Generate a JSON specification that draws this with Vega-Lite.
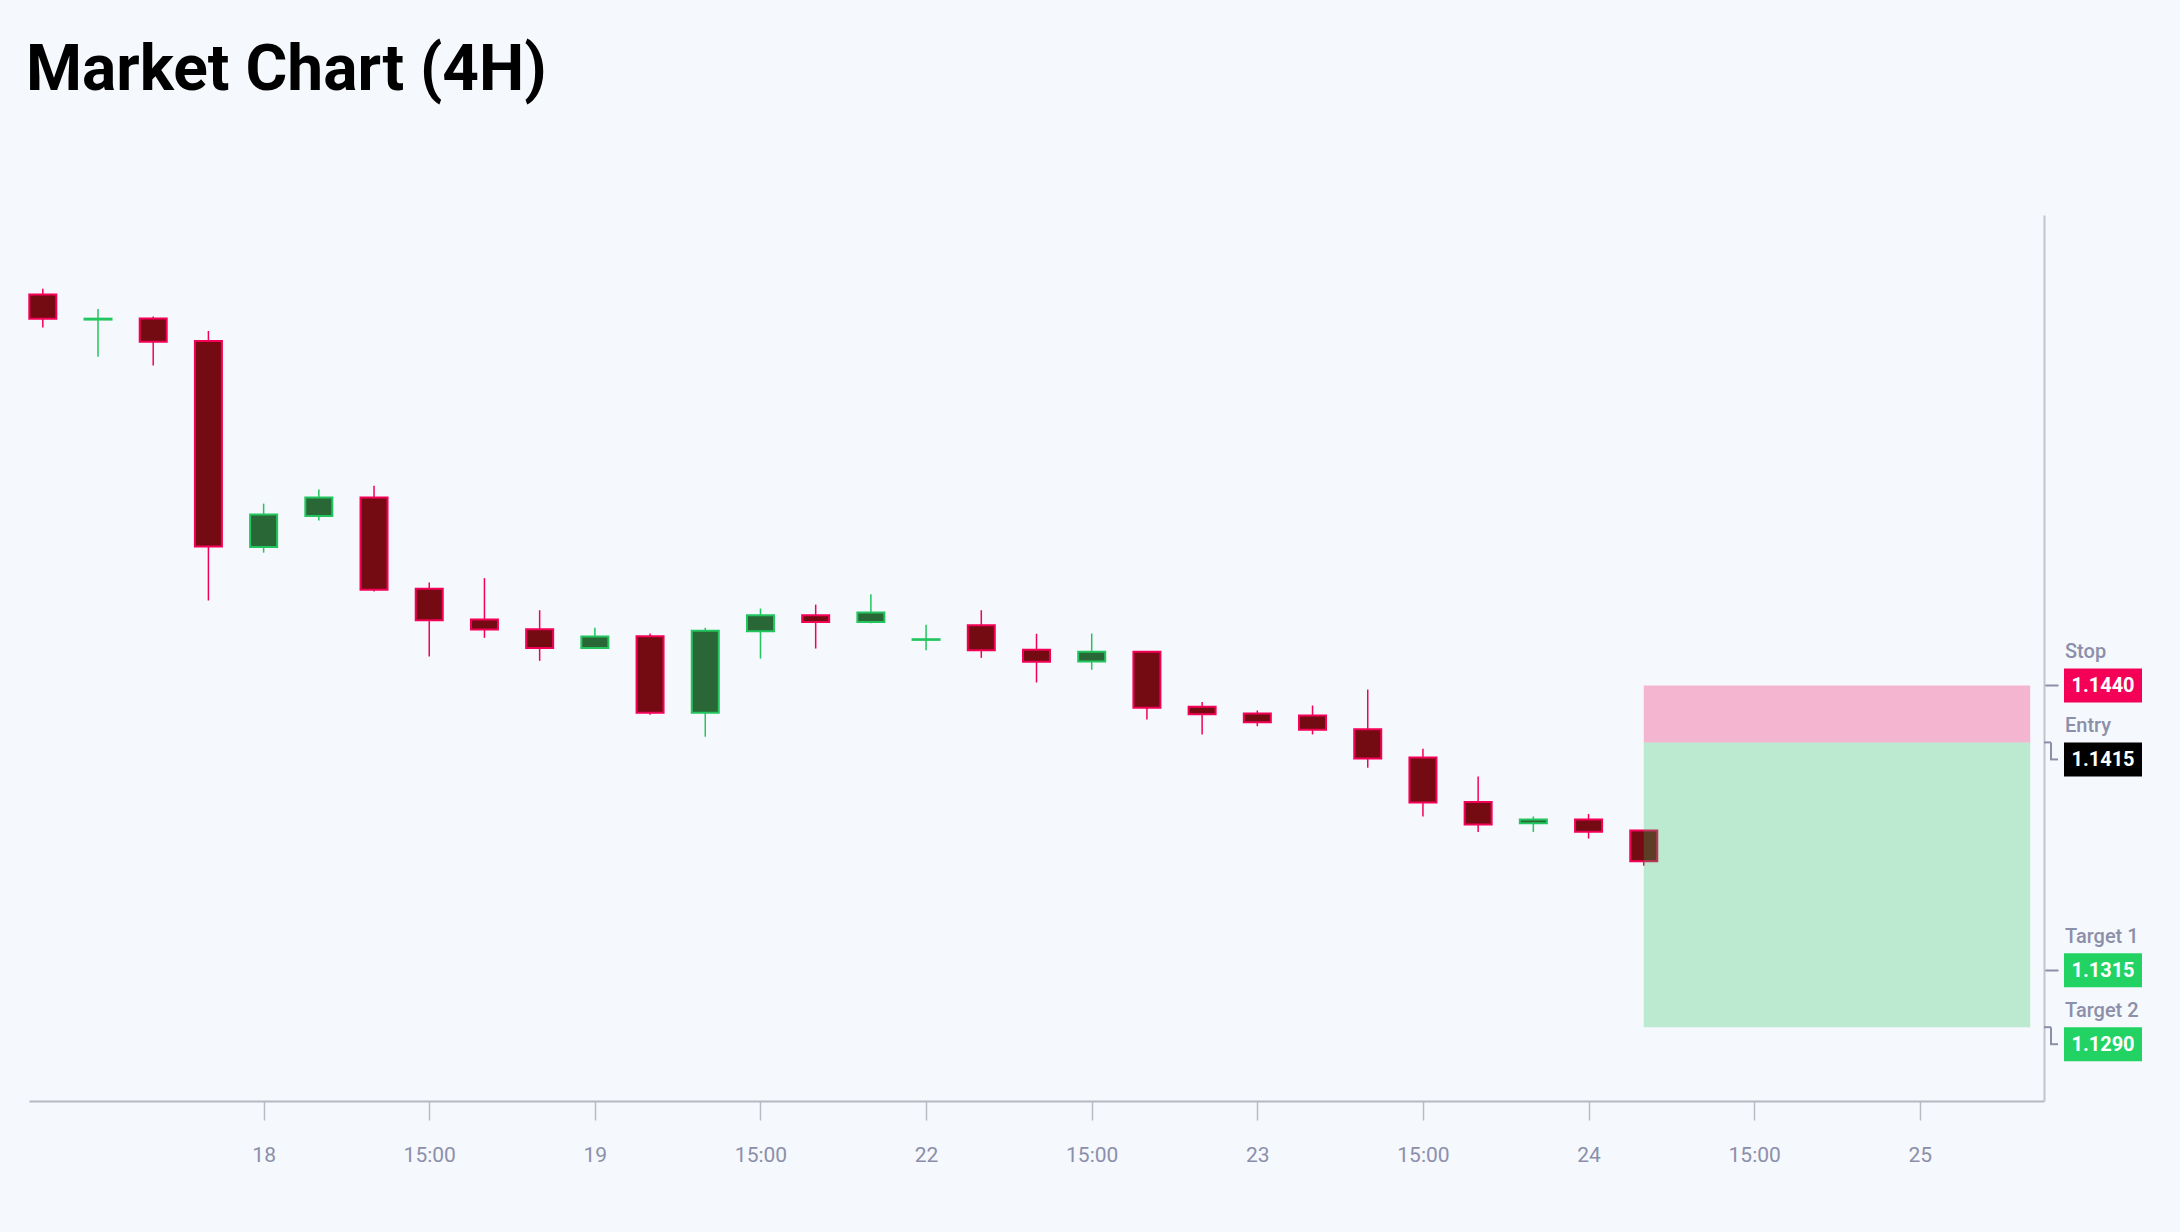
{
  "$schema": "https://vega.github.io/schema/vega-lite/v6.json",
  "autosize": {"type": "none"},
  "padding": {"left": 29, "top": 215, "right": 136, "bottom": 131},
  "width": 2015,
  "height": 886,
  "background": "#f5f8fc",
  "config": {"view": {"stroke": null}},
  "title": {
    "text": "Market Chart (4H)",
    "anchor": "start",
    "frame": "group",
    "font": "Roboto",
    "fontSize": 64,
    "fontWeight": "bold",
    "color": "#000000",
    "baseline": "alphabetic",
    "offset": 61,
    "dx": -3
  },
  "datasets": {
    "candles": [
      {"i": 0, "o": 1.16116, "h": 1.16141, "l": 1.15971, "c": 1.16010},
      {"i": 1, "o": 1.16006, "h": 1.16052, "l": 1.15843, "c": 1.16010},
      {"i": 2, "o": 1.16011, "h": 1.16020, "l": 1.15804, "c": 1.15909},
      {"i": 3, "o": 1.15912, "h": 1.15956, "l": 1.14773, "c": 1.15010},
      {"i": 4, "o": 1.15008, "h": 1.15198, "l": 1.14983, "c": 1.15150},
      {"i": 5, "o": 1.15144, "h": 1.15260, "l": 1.15124, "c": 1.15225},
      {"i": 6, "o": 1.15225, "h": 1.15277, "l": 1.14812, "c": 1.14820},
      {"i": 7, "o": 1.14824, "h": 1.14852, "l": 1.14527, "c": 1.14686},
      {"i": 8, "o": 1.14689, "h": 1.14871, "l": 1.14609, "c": 1.14646},
      {"i": 9, "o": 1.14647, "h": 1.14730, "l": 1.14508, "c": 1.14564},
      {"i": 10, "o": 1.14564, "h": 1.14653, "l": 1.14563, "c": 1.14615},
      {"i": 11, "o": 1.14616, "h": 1.14628, "l": 1.14271, "c": 1.14280},
      {"i": 12, "o": 1.14280, "h": 1.14653, "l": 1.14175, "c": 1.14640},
      {"i": 13, "o": 1.14638, "h": 1.14738, "l": 1.14518, "c": 1.14708},
      {"i": 14, "o": 1.14708, "h": 1.14755, "l": 1.14562, "c": 1.14679},
      {"i": 15, "o": 1.14679, "h": 1.14800, "l": 1.14673, "c": 1.14720},
      {"i": 16, "o": 1.14600, "h": 1.14666, "l": 1.14554, "c": 1.14603},
      {"i": 17, "o": 1.14664, "h": 1.14730, "l": 1.14521, "c": 1.14554},
      {"i": 18, "o": 1.14557, "h": 1.14627, "l": 1.14413, "c": 1.14504},
      {"i": 19, "o": 1.14505, "h": 1.14628, "l": 1.14469, "c": 1.14548},
      {"i": 20, "o": 1.14548, "h": 1.14550, "l": 1.14251, "c": 1.14302},
      {"i": 21, "o": 1.14307, "h": 1.14327, "l": 1.14185, "c": 1.14274},
      {"i": 22, "o": 1.14277, "h": 1.14290, "l": 1.14221, "c": 1.14239},
      {"i": 23, "o": 1.14268, "h": 1.14312, "l": 1.14185, "c": 1.14206},
      {"i": 24, "o": 1.14208, "h": 1.14382, "l": 1.14039, "c": 1.14079},
      {"i": 25, "o": 1.14084, "h": 1.14122, "l": 1.13825, "c": 1.13886},
      {"i": 26, "o": 1.13888, "h": 1.14000, "l": 1.13757, "c": 1.13790},
      {"i": 27, "o": 1.13795, "h": 1.13825, "l": 1.13757, "c": 1.13812},
      {"i": 28, "o": 1.13812, "h": 1.13836, "l": 1.13728, "c": 1.13758},
      {"i": 29, "o": 1.13763, "h": 1.13765, "l": 1.13609, "c": 1.13628}
    ],
    "zones": [
      {"zone": "risk", "start": 29, "end": 36, "low": 1.1415, "high": 1.1440},
      {"zone": "reward", "start": 29, "end": 36, "low": 1.1290, "high": 1.1415}
    ],
    "levels": [
      {"name": "Stop", "price": 1.1440, "value": "1.1440", "kind": "stop"},
      {"name": "Entry", "price": 1.1415, "value": "1.1415", "kind": "entry"},
      {"name": "Target 1", "price": 1.1315, "value": "1.1315", "kind": "target"},
      {"name": "Target 2", "price": 1.1290, "value": "1.1290", "kind": "target"}
    ]
  },
  "layer": [
    {
      "data": {"name": "candles"},
      "mark": {"type": "rule", "strokeWidth": 1.5},
      "encoding": {
        "x": {
          "field": "i",
          "type": "quantitative",
          "scale": {"domain": [-0.25, 36.25], "nice": false, "zero": false, "padding": 0},
          "axis": {
            "orient": "bottom",
            "values": [4, 7, 10, 13, 16, 19, 22, 25, 28, 31, 34],
            "labelExpr": "['18','15:00','19','15:00','22','15:00','23','15:00','24','15:00','25'][round((datum.value-4)/3)]",
            "title": null,
            "grid": false,
            "domainColor": "#b5b8c0",
            "domainWidth": 2,
            "tickColor": "#b9bcc4",
            "tickWidth": 1.5,
            "tickSize": 19,
            "labelColor": "#8c8faa",
            "labelFont": "Roboto",
            "labelFontSize": 21,
            "labelPadding": 24
          }
        },
        "y": {
          "field": "l",
          "type": "quantitative",
          "scale": {"domain": [1.12576, 1.16465], "nice": false, "zero": false, "padding": 0},
          "axis": {
            "orient": "right",
            "values": [1.1440, 1.1315],
            "labels": false,
            "title": null,
            "grid": false,
            "domainColor": "#c2c5cd",
            "domainWidth": 2,
            "tickColor": "#8c8faa",
            "tickWidth": 2,
            "tickSize": 14
          }
        },
        "y2": {"field": "h"},
        "color": {
          "condition": {"test": "datum.c >= datum.o", "value": "#22c55e"},
          "value": "#f50057"
        }
      }
    },
    {
      "data": {"name": "candles"},
      "mark": {"type": "bar", "width": 27, "strokeWidth": 2},
      "encoding": {
        "x": {"field": "i", "type": "quantitative"},
        "y": {"field": "o", "type": "quantitative"},
        "y2": {"field": "c"},
        "fill": {
          "condition": {"test": "datum.c >= datum.o", "value": "#2a6736"},
          "value": "#740b13"
        },
        "stroke": {
          "condition": {"test": "datum.c >= datum.o", "value": "#22c55e"},
          "value": "#f50057"
        }
      }
    },
    {
      "data": {"name": "zones"},
      "mark": {"type": "rect", "opacity": 0.27},
      "encoding": {
        "x": {"field": "start", "type": "quantitative"},
        "x2": {"field": "end"},
        "y": {"field": "low", "type": "quantitative"},
        "y2": {"field": "high"},
        "fill": {
          "condition": {"test": "datum.zone === 'risk'", "value": "#f50057"},
          "value": "#22c55e"
        }
      }
    },
    {
      "data": {"name": "levels"},
      "transform": [{"filter": "datum.name === 'Entry' || datum.name === 'Target 2'"}],
      "mark": {"type": "rule", "color": "#8c8faa", "strokeWidth": 2, "x2Offset": 7, "clip": false},
      "encoding": {
        "x": {"value": "width"},
        "x2": {"value": "width"},
        "y": {"field": "price", "type": "quantitative"}
      }
    },
    {
      "data": {"name": "levels"},
      "transform": [{"filter": "datum.name === 'Entry' || datum.name === 'Target 2'"}],
      "mark": {"type": "rule", "color": "#8c8faa", "strokeWidth": 2, "xOffset": 7, "y2Offset": 17, "clip": false},
      "encoding": {
        "x": {"value": "width"},
        "y": {"field": "price", "type": "quantitative"},
        "y2": {"field": "price"}
      }
    },
    {
      "data": {"name": "levels"},
      "transform": [{"filter": "datum.name === 'Entry' || datum.name === 'Target 2'"}],
      "mark": {"type": "rule", "color": "#8c8faa", "strokeWidth": 2, "xOffset": 6, "x2Offset": 14, "yOffset": 17, "clip": false},
      "encoding": {
        "x": {"value": "width"},
        "x2": {"value": "width"},
        "y": {"field": "price", "type": "quantitative"}
      }
    },
    {
      "data": {"name": "levels"},
      "transform": [{"filter": "datum.name === 'Stop' || datum.name === 'Target 1'"}],
      "layer": [
        {
          "mark": {"type": "rect", "xOffset": 20, "x2Offset": 98, "yOffset": -17, "y2Offset": 17, "clip": false},
          "encoding": {
            "x": {"value": "width"},
            "x2": {"value": "width"},
            "y": {"field": "price", "type": "quantitative"},
            "y2": {"field": "price"},
            "fill": {
              "condition": [
                {"test": "datum.kind === 'stop'", "value": "#f50057"},
                {"test": "datum.kind === 'entry'", "value": "#000000"}
              ],
              "value": "#22d364"
            }
          }
        },
        {
          "mark": {"type": "text", "xOffset": 59, "yOffset": 1, "align": "center", "baseline": "middle", "font": "Roboto", "fontSize": 20, "fontWeight": "bold", "color": "#ffffff", "clip": false},
          "encoding": {
            "x": {"value": "width"},
            "y": {"field": "price", "type": "quantitative"},
            "text": {"field": "value"}
          }
        },
        {
          "mark": {"type": "text", "xOffset": 21, "yOffset": -27, "align": "left", "baseline": "alphabetic", "font": "Roboto", "fontSize": 20, "fontWeight": 500, "color": "#8c8faa", "clip": false},
          "encoding": {
            "x": {"value": "width"},
            "y": {"field": "price", "type": "quantitative"},
            "text": {"field": "name"}
          }
        }
      ]
    },
    {
      "data": {"name": "levels"},
      "transform": [{"filter": "datum.name === 'Entry' || datum.name === 'Target 2'"}],
      "layer": [
        {
          "mark": {"type": "rect", "xOffset": 20, "x2Offset": 98, "yOffset": 0, "y2Offset": 34, "clip": false},
          "encoding": {
            "x": {"value": "width"},
            "x2": {"value": "width"},
            "y": {"field": "price", "type": "quantitative"},
            "y2": {"field": "price"},
            "fill": {
              "condition": [
                {"test": "datum.kind === 'stop'", "value": "#f50057"},
                {"test": "datum.kind === 'entry'", "value": "#000000"}
              ],
              "value": "#22d364"
            }
          }
        },
        {
          "mark": {"type": "text", "xOffset": 59, "yOffset": 18, "align": "center", "baseline": "middle", "font": "Roboto", "fontSize": 20, "fontWeight": "bold", "color": "#ffffff", "clip": false},
          "encoding": {
            "x": {"value": "width"},
            "y": {"field": "price", "type": "quantitative"},
            "text": {"field": "value"}
          }
        },
        {
          "mark": {"type": "text", "xOffset": 21, "yOffset": -10, "align": "left", "baseline": "alphabetic", "font": "Roboto", "fontSize": 20, "fontWeight": 500, "color": "#8c8faa", "clip": false},
          "encoding": {
            "x": {"value": "width"},
            "y": {"field": "price", "type": "quantitative"},
            "text": {"field": "name"}
          }
        }
      ]
    }
  ]
}
